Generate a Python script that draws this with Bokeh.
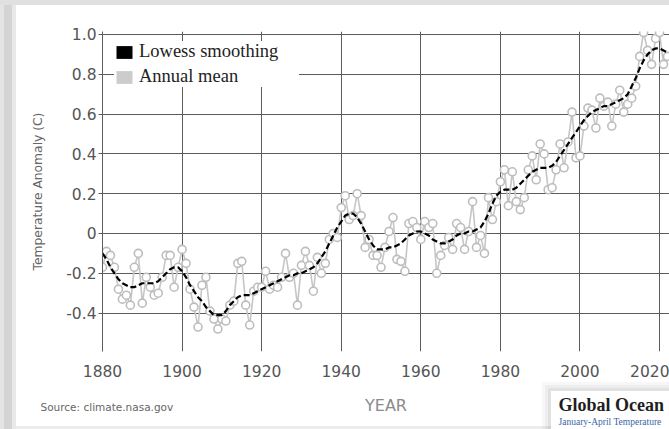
import numpy as np
from bokeh.plotting import figure
from bokeh.models import (Range1d, FixedTicker, Legend, LegendItem, Label,
                          ColumnDataSource)
from bokeh.embed import file_html
from bokeh.resources import INLINE

# ---------------- data ----------------
years = list(range(1880, 2023))

annual_mean = [
    -0.17, -0.09, -0.11, -0.17, -0.28, -0.33, -0.31, -0.36, -0.17, -0.10,   # 1880s
    -0.35, -0.22, -0.27, -0.31, -0.30, -0.22, -0.11, -0.11, -0.27, -0.17,   # 1890s
    -0.08, -0.15, -0.28, -0.37, -0.47, -0.26, -0.22, -0.39, -0.43, -0.48,   # 1900s
    -0.43, -0.44, -0.36, -0.34, -0.15, -0.14, -0.36, -0.46, -0.29, -0.27,   # 1910s
    -0.27, -0.19, -0.28, -0.26, -0.27, -0.22, -0.10, -0.22, -0.20, -0.36,   # 1920s
    -0.16, -0.09, -0.16, -0.29, -0.12, -0.20, -0.15, -0.03, -0.00, -0.02,   # 1930s
    0.13, 0.19, 0.07, 0.09, 0.20, 0.09, -0.07, -0.03, -0.11, -0.11,         # 1940s
    -0.17, -0.07, 0.01, 0.08, -0.13, -0.14, -0.19, 0.05, 0.06, 0.03,        # 1950s
    -0.03, 0.06, 0.03, 0.05, -0.20, -0.11, -0.06, -0.02, -0.08, 0.05,       # 1960s
    0.03, -0.08, 0.01, 0.16, -0.07, -0.01, -0.10, 0.18, 0.07, 0.16,         # 1970s
    0.26, 0.32, 0.14, 0.31, 0.16, 0.12, 0.18, 0.32, 0.39, 0.27,             # 1980s
    0.45, 0.40, 0.22, 0.23, 0.32, 0.45, 0.33, 0.46, 0.61, 0.38,             # 1990s
    0.39, 0.54, 0.63, 0.62, 0.53, 0.68, 0.64, 0.66, 0.54, 0.65,             # 2000s
    0.72, 0.61, 0.65, 0.68, 0.74, 0.89, 1.01, 0.92, 0.85, 0.98,             # 2010s
    1.01, 0.85, 0.89,                                                       # 2020s
]

lowess_smoothing = [
    -0.10, -0.13, -0.17, -0.20, -0.23, -0.25, -0.26, -0.27, -0.27, -0.26,
    -0.25, -0.25, -0.25, -0.25, -0.24, -0.22, -0.20, -0.18, -0.17, -0.17,
    -0.19, -0.22, -0.26, -0.29, -0.32, -0.34, -0.37, -0.39, -0.41, -0.41,
    -0.41, -0.39, -0.36, -0.34, -0.32, -0.31, -0.31, -0.31, -0.30, -0.29,
    -0.28, -0.27, -0.26, -0.25, -0.24, -0.23, -0.22, -0.21, -0.21, -0.20,
    -0.20, -0.19, -0.18, -0.17, -0.15, -0.12, -0.09, -0.05, -0.01, 0.03,
    0.06, 0.09, 0.10, 0.10, 0.08, 0.05, 0.01, -0.03, -0.06, -0.08,
    -0.08, -0.08, -0.07, -0.07, -0.06, -0.05, -0.03, -0.01, 0.00, 0.01,
    0.01, 0.00, -0.01, -0.03, -0.04, -0.05, -0.05, -0.04, -0.03, -0.01,
    0.00, 0.00, 0.01, 0.01, 0.02, 0.03, 0.06, 0.10, 0.15, 0.19,
    0.21, 0.22, 0.22, 0.22, 0.23, 0.25, 0.27, 0.29, 0.31, 0.32,
    0.33, 0.33, 0.33, 0.34, 0.36, 0.39, 0.42, 0.45, 0.48, 0.51,
    0.54, 0.57, 0.59, 0.61, 0.62, 0.63, 0.64, 0.64, 0.65, 0.66,
    0.67, 0.68, 0.70, 0.74, 0.78, 0.83, 0.87, 0.90, 0.92, 0.93,
    0.93, 0.92, 0.91,
]

x_ticks = [1880, 1900, 1920, 1940, 1960, 1980, 2000, 2020]
x_tick_labels = ["1880", "1900", "1920", "1940", "1960", "1980", "2000", "2020"]
y_ticks = [-0.4, -0.2, 0, 0.2, 0.4, 0.6, 0.8, 1.0]
y_tick_labels = ["-0.4", "-0.2", "0", "0.2", "0.4", "0.6", "0.8", "1.0"]

series_names = ["Lowess smoothing", "Annual mean"]
y_title = "Temperature Anomaly (C)"
x_title = "YEAR"
source_text = "Source: climate.nasa.gov"
inset_title = "Global Ocean"
inset_subtitle = "January-April Temperature"

# ---------------- figure ----------------
W, H = 669, 429
p = figure(width=W, height=H, output_backend="svg", toolbar_location=None,
           title=None,
           x_range=Range1d(1880, 2022.5), y_range=Range1d(-0.593, 1.015),
           min_border_left=102, min_border_right=0, min_border_top=31,
           min_border_bottom=78)
p.background_fill_color = "white"
p.border_fill_color = None
p.outline_line_color = None

# page backdrop seen in the screenshot: grey card edges and the inset card
def rect_layer(color, x, y, w, h):
    return f"linear-gradient({color},{color}) {x}px {y}px / {w}px {h}px no-repeat"

p.styles = {
    "background": ", ".join([
        rect_layer("#ffffff", 551, 391, 118, 38),
        rect_layer("rgba(0,0,0,0.05)", 548, 388, 121, 41),
        rect_layer("rgba(0,0,0,0.04)", 545, 385, 124, 44),
        rect_layer("rgba(0,0,0,0.03)", 542, 382, 127, 47),
        rect_layer("#e0e0e0", 0, 0, 669, 5),
        rect_layer("#e4e4e4", 0, 0, 4, 429),
        rect_layer("#d4d4d4", 4, 0, 8, 429),
        rect_layer("#e9e9e9", 12, 0, 4, 429),
        rect_layer("#ececec", 16, 426, 653, 3),
        "#ffffff",
    ])
}

GRID = "#5c5c5c"
p.xgrid.ticker = FixedTicker(ticks=x_ticks)
p.ygrid.ticker = FixedTicker(ticks=y_ticks)
for g in (p.xgrid, p.ygrid):
    g.grid_line_color = GRID
    g.grid_line_width = 1

# y axis
ya = p.yaxis[0]
ya.ticker = FixedTicker(ticks=y_ticks)
ya.major_label_overrides = dict(zip(y_ticks, y_tick_labels))
ya.axis_line_color = GRID
ya.major_tick_line_color = GRID
ya.major_tick_out = 4
ya.major_tick_in = 0
ya.minor_tick_line_color = None
ya.major_label_standoff = 2
ya.major_label_text_font = "DejaVu Sans"
ya.major_label_text_font_size = "15.5px"
ya.major_label_text_color = "#555555"
ya.axis_label = y_title
ya.axis_label_text_font = "DejaVu Sans"
ya.axis_label_text_font_style = "normal"
ya.axis_label_text_font_size = "12.3px"
ya.axis_label_text_color = "#666666"
ya.axis_label_standoff = 18

# x axis
xa = p.xaxis[0]
xa.ticker = FixedTicker(ticks=x_ticks)
xa.major_label_overrides = dict(zip(x_ticks, x_tick_labels))
xa.axis_line_color = None
xa.major_tick_line_color = None
xa.minor_tick_line_color = None
xa.major_tick_out = 0
xa.major_tick_in = 0
xa.major_label_standoff = 13
xa.major_label_text_font = "DejaVu Sans"
xa.major_label_text_font_size = "15.5px"
xa.major_label_text_color = "#555555"
xa.axis_label = x_title
xa.axis_label_text_font = "DejaVu Sans"
xa.axis_label_text_font_style = "normal"
xa.axis_label_text_font_size = "16px"
xa.axis_label_text_color = "#8a8a8a"
xa.axis_label_standoff = 16

# ---------------- series ----------------
src = ColumnDataSource(dict(year=years, annual=annual_mean, lowess=lowess_smoothing))

p.line("year", "annual", source=src, line_color="#c6c6c6", line_width=1.6)
p.scatter("year", "annual", source=src, size=8, marker="circle",
          line_color="#bdbdbd", line_width=1.6, fill_color="white")
p.line("year", "lowess", source=src, line_color="black", line_width=2.2,
       line_dash="6 3")

# legend proxies (square swatches)
nan = np.array([np.nan])
sw_black = p.quad(left=nan, right=nan, top=nan, bottom=nan,
                  fill_color="black", line_color=None)
sw_gray = p.quad(left=nan, right=nan, top=nan, bottom=nan,
                 fill_color="#cccccc", line_color=None)

legend = Legend(items=[LegendItem(label=series_names[0], renderers=[sw_black]),
                       LegendItem(label=series_names[1], renderers=[sw_gray])],
                location=(12, 264))
legend.background_fill_color = "white"
legend.background_fill_alpha = 1.0
legend.border_line_color = None
legend.padding = 2
legend.margin = 0
legend.spacing = 4
legend.glyph_width = 20
legend.glyph_height = 16
legend.label_standoff = 5
legend.label_height = 21
legend.label_width = 160
legend.label_text_font = "Liberation Serif"
legend.label_text_font_size = "18.5px"
legend.label_text_color = "#222222"
p.add_layout(legend)

# ---------------- texts outside the frame ----------------
p.add_layout(Label(x=558, y=404, x_units="canvas", y_units="canvas",
                   text=inset_title, text_font="Liberation Serif",
                   text_font_style="bold", text_font_size="18px",
                   text_color="#1e1e1e", text_baseline="middle",
                   text_align="left"), "above")
p.add_layout(Label(x=558, y=421, x_units="canvas", y_units="canvas",
                   text=inset_subtitle, text_font="Liberation Serif",
                   text_font_size="9.5px", text_color="#3a64a8",
                   text_baseline="middle", text_align="left"), "above")
p.add_layout(Label(x=40, y=406, x_units="canvas", y_units="canvas",
                   text=source_text, text_font="DejaVu Sans",
                   text_font_size="10.5px", text_color="#666666",
                   text_baseline="middle", text_align="left"), "below")

open("out.html", "w").write(file_html(p, INLINE))
